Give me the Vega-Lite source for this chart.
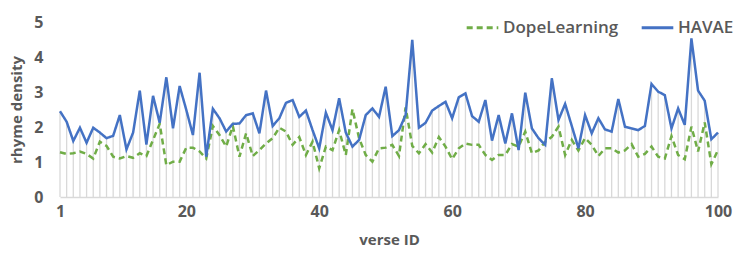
{
  "$schema": "https://vega.github.io/schema/vega-lite/v6.json",
  "width": 658,
  "height": 175,
  "autosize": {"type": "none"},
  "padding": {"left": 60, "top": 22, "right": 17, "bottom": 63},
  "background": "white",
  "config": {
    "view": {"stroke": null},
    "font": "Open Sans",
    "axis": {"grid": false, "ticks": false, "labelColor": "#595959", "titleColor": "#595959", "labelFontSize": 16, "labelFontWeight": "bold", "titleFontSize": 15, "titleFontWeight": "bold"}
  },
  "data": {
    "values": [
      {"id": 1, "DopeLearning": 1.28, "HAVAE": 2.45},
      {"id": 2, "DopeLearning": 1.23, "HAVAE": 2.15},
      {"id": 3, "DopeLearning": 1.25, "HAVAE": 1.6},
      {"id": 4, "DopeLearning": 1.3, "HAVAE": 1.98},
      {"id": 5, "DopeLearning": 1.23, "HAVAE": 1.55},
      {"id": 6, "DopeLearning": 1.1, "HAVAE": 1.98},
      {"id": 7, "DopeLearning": 1.58, "HAVAE": 1.84},
      {"id": 8, "DopeLearning": 1.46, "HAVAE": 1.68},
      {"id": 9, "DopeLearning": 1.15, "HAVAE": 1.75},
      {"id": 10, "DopeLearning": 1.1, "HAVAE": 2.34},
      {"id": 11, "DopeLearning": 1.17, "HAVAE": 1.36},
      {"id": 12, "DopeLearning": 1.12, "HAVAE": 1.84},
      {"id": 13, "DopeLearning": 1.25, "HAVAE": 3.04},
      {"id": 14, "DopeLearning": 1.17, "HAVAE": 1.5},
      {"id": 15, "DopeLearning": 1.63, "HAVAE": 2.89},
      {"id": 16, "DopeLearning": 2.09, "HAVAE": 2.12},
      {"id": 17, "DopeLearning": 0.91, "HAVAE": 3.42},
      {"id": 18, "DopeLearning": 1.01, "HAVAE": 1.96},
      {"id": 19, "DopeLearning": 1.01, "HAVAE": 3.17},
      {"id": 20, "DopeLearning": 1.41, "HAVAE": 2.49},
      {"id": 21, "DopeLearning": 1.41, "HAVAE": 1.77},
      {"id": 22, "DopeLearning": 1.3, "HAVAE": 3.55},
      {"id": 23, "DopeLearning": 1.1, "HAVAE": 1.15},
      {"id": 24, "DopeLearning": 2.03, "HAVAE": 2.52},
      {"id": 25, "DopeLearning": 1.77, "HAVAE": 2.25},
      {"id": 26, "DopeLearning": 1.44, "HAVAE": 1.87},
      {"id": 27, "DopeLearning": 2.03, "HAVAE": 2.09},
      {"id": 28, "DopeLearning": 1.15, "HAVAE": 2.1},
      {"id": 29, "DopeLearning": 1.82, "HAVAE": 2.34},
      {"id": 30, "DopeLearning": 1.17, "HAVAE": 2.39},
      {"id": 31, "DopeLearning": 1.34, "HAVAE": 1.82},
      {"id": 32, "DopeLearning": 1.53, "HAVAE": 3.04},
      {"id": 33, "DopeLearning": 1.68, "HAVAE": 2.03},
      {"id": 34, "DopeLearning": 1.98, "HAVAE": 2.25},
      {"id": 35, "DopeLearning": 1.87, "HAVAE": 2.69},
      {"id": 36, "DopeLearning": 1.49, "HAVAE": 2.77},
      {"id": 37, "DopeLearning": 1.71, "HAVAE": 2.29},
      {"id": 38, "DopeLearning": 1.2, "HAVAE": 2.47},
      {"id": 39, "DopeLearning": 1.58, "HAVAE": 1.91},
      {"id": 40, "DopeLearning": 0.82, "HAVAE": 1.39},
      {"id": 41, "DopeLearning": 1.44, "HAVAE": 2.41},
      {"id": 42, "DopeLearning": 1.34, "HAVAE": 1.91},
      {"id": 43, "DopeLearning": 1.91, "HAVAE": 2.82},
      {"id": 44, "DopeLearning": 1.2, "HAVAE": 1.84},
      {"id": 45, "DopeLearning": 2.51, "HAVAE": 1.44},
      {"id": 46, "DopeLearning": 1.68, "HAVAE": 1.63},
      {"id": 47, "DopeLearning": 1.2, "HAVAE": 2.34},
      {"id": 48, "DopeLearning": 1.01, "HAVAE": 2.53},
      {"id": 49, "DopeLearning": 1.39, "HAVAE": 2.29},
      {"id": 50, "DopeLearning": 1.41, "HAVAE": 3.15},
      {"id": 51, "DopeLearning": 1.49, "HAVAE": 1.74},
      {"id": 52, "DopeLearning": 1.17, "HAVAE": 1.91},
      {"id": 53, "DopeLearning": 2.56, "HAVAE": 2.34},
      {"id": 54, "DopeLearning": 1.46, "HAVAE": 4.49},
      {"id": 55, "DopeLearning": 1.25, "HAVAE": 1.98},
      {"id": 56, "DopeLearning": 1.51, "HAVAE": 2.12},
      {"id": 57, "DopeLearning": 1.27, "HAVAE": 2.47},
      {"id": 58, "DopeLearning": 1.71, "HAVAE": 2.6},
      {"id": 59, "DopeLearning": 1.44, "HAVAE": 2.72},
      {"id": 60, "DopeLearning": 1.08, "HAVAE": 2.25},
      {"id": 61, "DopeLearning": 1.39, "HAVAE": 2.85},
      {"id": 62, "DopeLearning": 1.53, "HAVAE": 2.96},
      {"id": 63, "DopeLearning": 1.49, "HAVAE": 2.31},
      {"id": 64, "DopeLearning": 1.49, "HAVAE": 2.15},
      {"id": 65, "DopeLearning": 1.2, "HAVAE": 2.77},
      {"id": 66, "DopeLearning": 1.06, "HAVAE": 1.61},
      {"id": 67, "DopeLearning": 1.2, "HAVAE": 2.34},
      {"id": 68, "DopeLearning": 1.2, "HAVAE": 1.53},
      {"id": 69, "DopeLearning": 1.51, "HAVAE": 2.39},
      {"id": 70, "DopeLearning": 1.44, "HAVAE": 1.34},
      {"id": 71, "DopeLearning": 1.87, "HAVAE": 2.98},
      {"id": 72, "DopeLearning": 1.25, "HAVAE": 1.96},
      {"id": 73, "DopeLearning": 1.33, "HAVAE": 1.68},
      {"id": 74, "DopeLearning": 1.58, "HAVAE": 1.49},
      {"id": 75, "DopeLearning": 1.72, "HAVAE": 3.39},
      {"id": 76, "DopeLearning": 2.01, "HAVAE": 2.2},
      {"id": 77, "DopeLearning": 1.2, "HAVAE": 2.66},
      {"id": 78, "DopeLearning": 1.63, "HAVAE": 2.03},
      {"id": 79, "DopeLearning": 1.33, "HAVAE": 1.39},
      {"id": 80, "DopeLearning": 1.68, "HAVAE": 2.34},
      {"id": 81, "DopeLearning": 1.49, "HAVAE": 1.82},
      {"id": 82, "DopeLearning": 1.17, "HAVAE": 2.25},
      {"id": 83, "DopeLearning": 1.39, "HAVAE": 1.93},
      {"id": 84, "DopeLearning": 1.39, "HAVAE": 1.87},
      {"id": 85, "DopeLearning": 1.27, "HAVAE": 2.8},
      {"id": 86, "DopeLearning": 1.33, "HAVAE": 2.01},
      {"id": 87, "DopeLearning": 1.51, "HAVAE": 1.96},
      {"id": 88, "DopeLearning": 1.15, "HAVAE": 1.91},
      {"id": 89, "DopeLearning": 1.23, "HAVAE": 2.03},
      {"id": 90, "DopeLearning": 1.44, "HAVAE": 3.23},
      {"id": 91, "DopeLearning": 1.15, "HAVAE": 3.01},
      {"id": 92, "DopeLearning": 1.1, "HAVAE": 2.91},
      {"id": 93, "DopeLearning": 1.74, "HAVAE": 1.96},
      {"id": 94, "DopeLearning": 1.2, "HAVAE": 2.53},
      {"id": 95, "DopeLearning": 1.08, "HAVAE": 2.06},
      {"id": 96, "DopeLearning": 2.01, "HAVAE": 4.53},
      {"id": 97, "DopeLearning": 1.3, "HAVAE": 3.04},
      {"id": 98, "DopeLearning": 2.13, "HAVAE": 2.75},
      {"id": 99, "DopeLearning": 0.94, "HAVAE": 1.65},
      {"id": 100, "DopeLearning": 1.34, "HAVAE": 1.84}
    ]
  },
  "layer": [
    {
      "mark": {"type": "rule", "color": "#d9d9d9", "strokeWidth": 1.3},
      "encoding": {
        "x": {
          "field": "id", "type": "quantitative",
          "scale": {"domain": [1, 100], "nice": false, "zero": false},
          "axis": {"values": [1, 20, 40, 60, 80, 100], "title": "verse ID", "domainColor": "#d9d9d9", "domainWidth": 1.5, "labelPadding": 6, "titlePadding": 13, "labelFlush": false, "labelOverlap": false}
        },
        "y": {
          "field": "HAVAE", "type": "quantitative",
          "scale": {"domain": [0, 5], "nice": false},
          "axis": {"values": [0, 1, 2, 3, 4, 5], "title": "rhyme density", "domain": false, "labelPadding": 17, "titlePadding": 9, "labelOverlap": false, "labelFlush": false, "labelBound": false}
        },
        "y2": {"datum": 0}
      }
    },
    {
      "transform": [{"fold": ["DopeLearning", "HAVAE"], "as": ["model", "value"]}],
      "mark": {"type": "line", "strokeWidth": 2.5},
      "encoding": {
        "x": {
          "field": "id", "type": "quantitative",
          "scale": {"domain": [1, 100], "nice": false, "zero": false},
          "axis": {"values": [1, 20, 40, 60, 80, 100], "title": "verse ID", "domainColor": "#d9d9d9", "domainWidth": 1.5, "labelPadding": 6, "titlePadding": 13, "labelFlush": false, "labelOverlap": false}
        },
        "y": {
          "field": "value", "type": "quantitative",
          "scale": {"domain": [0, 5], "nice": false},
          "axis": {"values": [0, 1, 2, 3, 4, 5], "title": "rhyme density", "domain": false, "labelPadding": 17, "titlePadding": 9, "labelOverlap": false, "labelFlush": false, "labelBound": false}
        },
        "color": {
          "field": "model", "type": "nominal",
          "scale": {"domain": ["DopeLearning", "HAVAE"], "range": ["#70AD47", "#4472C4"]},
          "legend": {"title": null, "orient": "none", "legendX": 405, "legendY": -12, "direction": "horizontal", "symbolType": "stroke", "symbolSize": 1000, "symbolStrokeWidth": 3, "labelFontSize": 17, "labelFontWeight": 600, "labelColor": "#595959", "columnPadding": 16, "labelOffset": 3}
        },
        "strokeDash": {
          "field": "model", "type": "nominal",
          "scale": {"domain": ["DopeLearning", "HAVAE"], "range": [[6, 4], [1, 0]]},
          "legend": {"title": null, "orient": "none", "legendX": 405, "legendY": -12, "direction": "horizontal", "symbolType": "stroke", "symbolSize": 1000, "symbolStrokeWidth": 3, "labelFontSize": 17, "labelFontWeight": 600, "labelColor": "#595959", "columnPadding": 16, "labelOffset": 3}
        }
      }
    }
  ]
}
